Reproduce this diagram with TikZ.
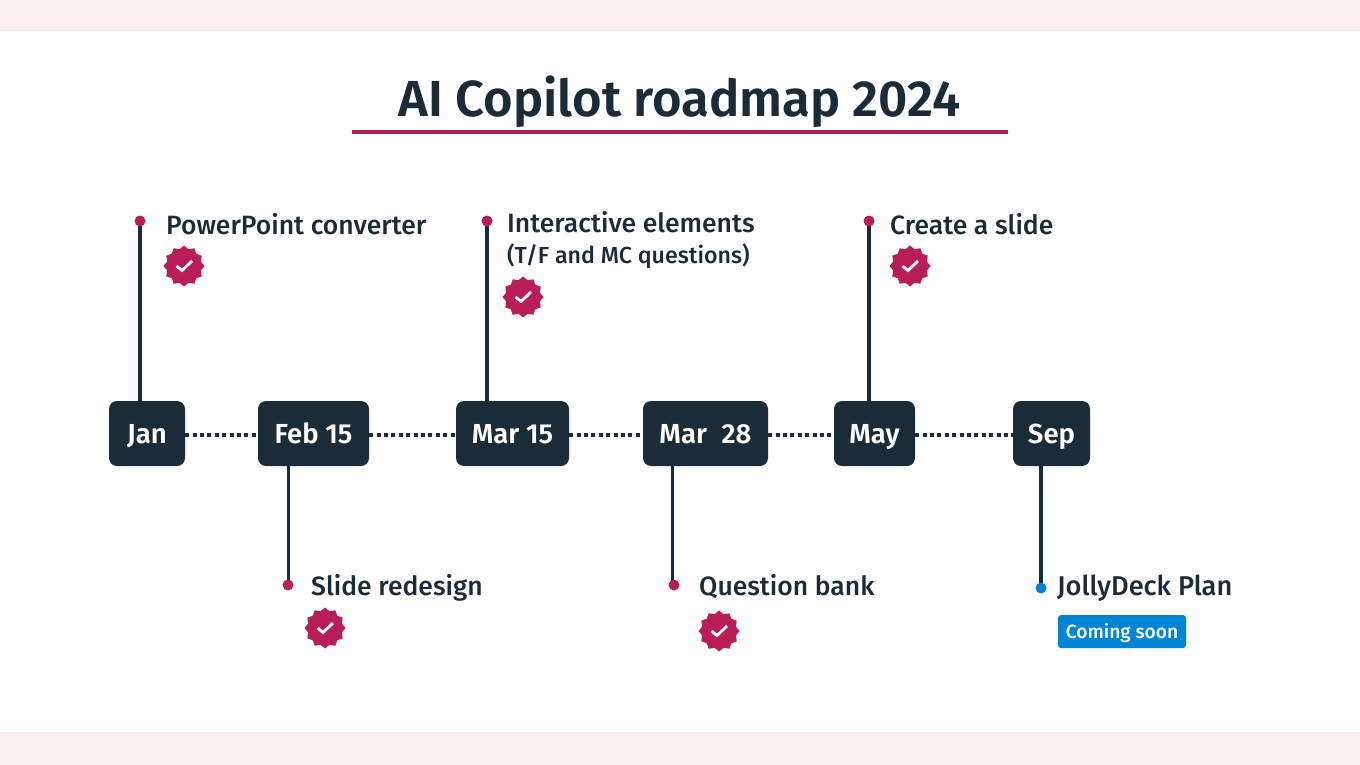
\documentclass[tikz,border=0pt]{standalone}
\usepackage{fontspec}
\setmainfont{Fira Sans}[UprightFont=* Medium,BoldFont=* SemiBold]
\usetikzlibrary{shapes.geometric}
\definecolor{ink}{HTML}{1B2C39}
\definecolor{crim}{HTML}{B81D55}
\definecolor{band}{HTML}{F9F0EC}
\definecolor{azure}{HTML}{0085D6}
\tikzset{
  datebox/.style={fill=ink,rounded corners=8pt,minimum height=65pt,inner sep=0pt,text=white,text height=19pt,text depth=0pt,font=\fontsize{27.5}{30}\selectfont\bfseries},
  label/.style={anchor=base west,text=ink,inner sep=0pt,font=\fontsize{26.5}{30}\selectfont},
  pin/.style={circle,fill=crim,minimum size=11pt,inner sep=0pt},
  stem/.style={draw=ink,line width=3.5pt},
  dots/.style={draw=ink,line width=4.5pt,dash pattern=on 4pt off 3.4pt},
  badge/.style={star,star points=12,star point ratio=1.18,fill=crim,minimum size=41pt,inner sep=0pt},
  tick/.style={draw=white,line width=2.8pt}
}
\newcommand{\tickat}[1]{\draw[tick] ([shift={(-7.5,0)}]#1.center) -- ([shift={(-2,4.5)}]#1.center) -- ([shift={(8,-5)}]#1.center);}
\begin{document}
\begin{tikzpicture}[x=1pt,y=-1pt]
\useasboundingbox (0,0) rectangle (1360,765);
\fill[white] (0,0) rectangle (1360,765);
\fill[band] (0,0) rectangle (1360,31);
\fill[band] (0,732) rectangle (1360,765);
\node[anchor=base,text=ink,inner sep=0pt,font=\fontsize{50.7}{56}\selectfont\bfseries] (title) at (679.5,117) {AI Copilot roadmap 2024};
\coordinate (ul) at (352,132);\coordinate (ur) at (1008,132);
\draw[crim,line width=4.5pt] (ul) -- (ur);
\node[datebox,minimum width=76pt] (jan) at (147,433.5) {Jan};
\node[datebox,minimum width=111pt] (feb) at (313.5,433.5) {Feb 15};
\node[datebox,minimum width=113pt] (m15) at (512.5,433.5) {Mar 15};
\node[datebox,minimum width=125pt] (m28) at (705.5,433.5) {Mar\hspace{8pt} 28};
\node[datebox,minimum width=81pt] (may) at (874.5,433.5) {May};
\node[datebox,minimum width=77pt] (sep) at (1051.5,433.5) {Sep};
\foreach \a/\b in {jan/feb,feb/m15,m15/m28,m28/may,may/sep}\draw[dots] ([yshift=-1.5pt]\a.east) -- ([yshift=-1.5pt]\b.west);
\coordinate (c1) at (140,221);
\coordinate (c2) at (288.5,585);
\coordinate (c3) at (487,221);
\coordinate (c4) at (672.5,585);
\coordinate (c5) at (869,221);
\coordinate (c6) at (1041,588);
\draw[stem] (c1) -- (c1 |- jan.north);
\draw[stem] (c2) -- (c2 |- feb.south);
\draw[stem] (c3) -- (c3 |- m15.north);
\draw[stem] (c4) -- (c4 |- m28.south);
\draw[stem] (c5) -- (c5 |- may.north);
\draw[stem] (c6) -- (c6 |- sep.south);
\node[pin] (p1) at (140,221) {};
\node[pin] (p2) at (288,585) {};
\node[pin] (p3) at (487,221) {};
\node[pin] (p4) at (674,585) {};
\node[pin] (p5) at (869,221) {};
\node[pin,fill=azure] (p6) at (1041,588) {};
\node[label] (t1) at (166,234) {PowerPoint converter};
\node[label] (t2) at (311,595) {Slide redesign};
\node[label] (t3) at (507,232) {Interactive elements};
\node[label,font=\fontsize{23.2}{26}\selectfont] (t3b) at (507,263) {(T/F and MC questions)};
\node[label] (t4) at (699,595) {Question bank};
\node[label] (t5) at (890,234) {Create a slide};
\node[label,font=\fontsize{27.2}{30}\selectfont] (t6) at (1057,595) {JollyDeck Plan};
\node[fill=azure,rounded corners=3pt,text=white,minimum width=128pt,minimum height=33pt,inner sep=0pt,text height=13.5pt,text depth=0pt,font=\fontsize{19.2}{24}\selectfont] (soon) at (1122,631.5) {Coming soon};
\node[badge] (b1) at (184,266) {};\tickat{b1}
\node[badge] (b2) at (325,628) {};\tickat{b2}
\node[badge] (b3) at (523,297) {};\tickat{b3}
\node[badge] (b4) at (719,631) {};\tickat{b4}
\node[badge] (b5) at (910,266) {};\tickat{b5}
\end{tikzpicture}
\end{document}
